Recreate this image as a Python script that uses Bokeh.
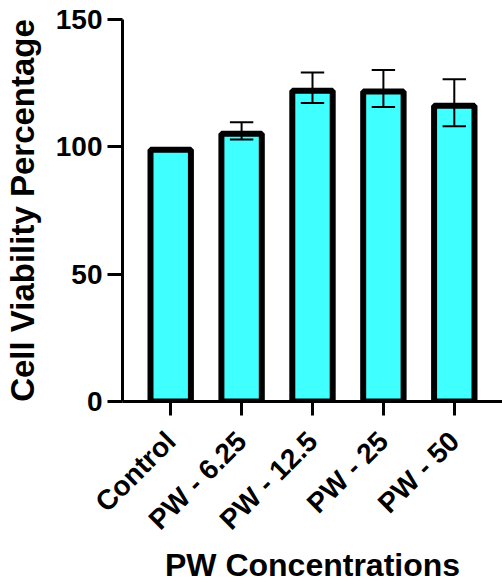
import math
from bokeh.plotting import figure
from bokeh.models import ColumnDataSource, Range1d, FixedTicker
from bokeh.embed import file_html
from bokeh.resources import INLINE

categories = ["Control", "PW - 6.25", "PW - 12.5", "PW - 25", "PW - 50"]
means = [100.0, 106.3, 123.2, 122.9, 117.3]
errors = [0.0, 3.4, 6.0, 7.3, 9.2]
y_ticks = [0, 50, 100, 150]

FONT = "Liberation Sans"
BAR_LW = 6
CAP_W = 0.33
Y_MAX = 150
W, H = 502, 586
B_LEFT, B_TOP, B_BOTTOM = 118, 19, 185
frame_h = H - B_TOP - B_BOTTOM
px_to_data = Y_MAX / frame_h

xs = list(range(len(categories)))
source = ColumnDataSource(dict(
    x=xs,
    top=[m - BAR_LW / 2 * px_to_data for m in means],
))
ex = [x for x, e in zip(xs, errors) if e > 0]
eu = [m + e for m, e in zip(means, errors) if e > 0]
el = [m - e for m, e in zip(means, errors) if e > 0]
err_src = ColumnDataSource(dict(
    x=ex, upper=eu, lower=el,
    x0=[x - CAP_W / 2 for x in ex], x1=[x + CAP_W / 2 for x in ex],
))

p = figure(width=W, height=H, output_backend="svg", toolbar_location=None,
           x_range=Range1d(-0.68, len(categories) - 1 + 0.68),
           y_range=Range1d(0, Y_MAX),
           min_border_left=B_LEFT, min_border_right=0,
           min_border_top=B_TOP, min_border_bottom=B_BOTTOM)
p.outline_line_color = None
p.xgrid.visible = False
p.ygrid.visible = False
p.background_fill_color = "white"

p.vbar(x="x", top="top", bottom=0, width=0.57, source=source,
       fill_color="#40FFFF", line_color="black", line_width=BAR_LW)

p.segment(x0="x", y0="lower", x1="x", y1="upper", source=err_src,
          line_color="black", line_width=2)
p.segment(x0="x0", y0="upper", x1="x1", y1="upper", source=err_src,
          line_color="black", line_width=2)
p.segment(x0="x0", y0="lower", x1="x1", y1="lower", source=err_src,
          line_color="black", line_width=2)

for ax in (p.xaxis[0], p.yaxis[0]):
    ax.axis_line_width = 3
    ax.axis_line_color = "black"
    ax.major_tick_line_width = 3
    ax.major_tick_line_color = "black"
    ax.major_tick_in = 0
    ax.minor_tick_line_color = None
    ax.major_label_text_font = FONT
    ax.major_label_text_font_style = "bold"
    ax.major_label_text_color = "black"
    ax.axis_label_text_font = FONT
    ax.axis_label_text_font_style = "bold"
    ax.axis_label_text_color = "black"
    ax.axis_label_text_font_size = "32px"
    ax.major_label_text_font_size = "28px"

p.yaxis[0].ticker = FixedTicker(ticks=y_ticks)
p.yaxis[0].major_tick_out = 15
p.yaxis[0].major_label_standoff = 5
p.yaxis[0].axis_label = "Cell Viability Percentage"
p.yaxis[0].axis_label_text_font_size = "33px"
p.yaxis[0].axis_label_standoff = 12

p.xaxis[0].ticker = FixedTicker(ticks=xs)
p.xaxis[0].major_label_overrides = {i: c for i, c in enumerate(categories)}
p.xaxis[0].major_tick_out = 14
p.xaxis[0].major_label_orientation = math.pi / 4
p.xaxis[0].major_label_standoff = 21
p.xaxis[0].axis_label = "PW Concentrations"
p.xaxis[0].axis_label_standoff = -2

open("out.html", "w").write(file_html(p, INLINE))
